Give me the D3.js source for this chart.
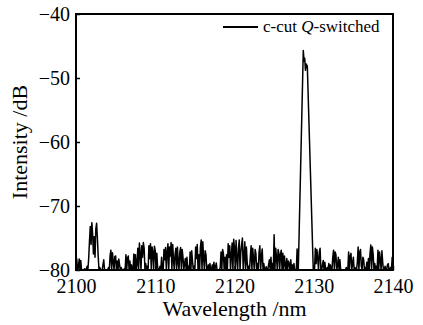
<!DOCTYPE html>
<html>
<head>
<meta charset="utf-8">
<script src="https://cdn.jsdelivr.net/npm/d3@7"></script>
<style>
  body { margin: 0; background: #fff; }
  svg text { font-family: "Liberation Serif", "DejaVu Serif", serif; fill: #000; }
</style>
</head>
<body>
<svg id="chart" width="423" height="325"></svg>
<script>
var noiseStep = 0.1;
var noise2100 = [ // 2100.0 .. 2109.9
  -77.8,-78.4,-80,-79.6,-78.3,-80,-78.5,-80,-80,-80,
  -80,-79.8,-80,-80,-79.4,-80,-78.2,-75.5,-73.2,-76,
  -72.6,-74.4,-77.5,-74.8,-78,-73.6,-72.7,-75,-77.8,-80,
  -79.6,-80,-80,-80,-79.2,-78.4,-80,-80,-80,-80,
  -80,-79.6,-80,-77.8,-76.9,-80,-77.3,-78.6,-80,-77.9,
  -77.8,-80,-78.6,-80,-78.3,-79.2,-80,-79.6,-80,-80,
  -80,-79.8,-80,-77.6,-80,-78.1,-77.8,-80,-78.6,-80,
  -79.2,-80,-80,-77.5,-80,-77.6,-80,-79,-76.6,-80,
  -75.8,-77.4,-80,-76.2,-78,-75.7,-76.6,-80,-79,-80,
  -79.4,-80,-76.2,-78.2,-75.9,-80,-76.4,-77.2,-80,-76.3
];
var noise2110 = [ // 2110.0 .. 2119.9
  -77,-80,-77.4,-79.6,-80,-80,-79.4,-80,-78,-80,
  -80,-76.8,-78.4,-76.5,-80,-77.2,-75.9,-80,-76.4,-77.8,
  -75.7,-80,-76,-78.3,-80,-77.6,-76.6,-80,-76.4,-78.8,
  -80,-77.2,-76.5,-80,-76.8,-78,-80,-79,-78.2,-80,
  -78,-80,-79.4,-80,-77.2,-80,-77,-78.6,-80,-79.4,
  -80,-76.4,-78.2,-76,-80,-77.6,-80,-76.4,-75.3,-80,
  -75.6,-78,-80,-77,-77.6,-80,-80,-79.2,-80,-79,
  -80,-80,-79.2,-80,-78.8,-80,-79.5,-78.9,-80,-80,
  -80,-80,-79.6,-77.2,-80,-76.8,-77.4,-80,-78,-80,
  -77.6,-80,-75.9,-78,-76.2,-80,-77.8,-75.8,-80,-75.2
];
var noise2120 = [ // 2120.0 .. 2127.9
  -76.5,-80,-75.4,-78.2,-80,-76.6,-75.3,-80,-77.2,-76,
  -75,-80,-77.8,-75.6,-80,-76.4,-78.8,-80,-79.4,-80,
  -77.8,-76.2,-80,-76.6,-78.2,-80,-76.8,-77.4,-80,-79,
  -80,-77.2,-76.2,-80,-77.8,-76.7,-80,-79,-80,-80,
  -79.5,-80,-80,-79.2,-78.4,-80,-78,-80,-79,-80,
  -74.5,-80,-76.6,-78,-80,-76.8,-77.4,-80,-77.6,-76.9,
  -80,-77.4,-80,-77.8,-79.2,-80,-78.2,-80,-78.6,-79,
  -80,-78.4,-80,-79.2,-80,-79,-80,-80,-80,-76.7
];
var noise2130 = [ // 2130.0 .. 2140.0
  -80,-80,-76.6,-79,-76.8,-78.2,-80,-77.2,-76.6,-80,
  -80,-79.2,-78.5,-80,-78.8,-80,-80,-79.6,-80,-79,
  -80,-79.2,-80,-80,-78,-76.9,-80,-77.2,-77.6,-80,
  -79.4,-78,-80,-78.4,-80,-80,-80,-80,-80,-80,
  -80,-79.6,-80,-80,-77.2,-80,-77.8,-77.4,-80,-79,
  -78,-80,-79.6,-80,-80,-78.8,-76.4,-80,-77.2,-76.8,
  -79.4,-80,-78,-78.4,-80,-79.6,-80,-78.8,-80,-78.2,
  -80,-77.4,-76.1,-80,-76.4,-77.6,-80,-79,-80,-79.4,
  -80,-76.9,-80,-77.2,-78.4,-80,-77,-78.8,-80,-80,
  -79.4,-80,-80,-79.2,-79,-80,-80,-79.6,-80,-78,
  -78
];
// laser line: [wavelength nm, intensity dB]
var peakPts = [
  [2128.0,-80],[2128.05,-80],[2128.68,-45.7],[2128.78,-47.4],[2128.86,-46.9],
  [2128.95,-48.8],[2129.05,-47.8],[2129.19,-48.2],[2129.94,-80]
];

var xTicks = [2100, 2110, 2120, 2130, 2140];
var yTicks = [-40, -50, -60, -70, -80];
var legendLabel = ["c-cut ", "Q", "-switched"];

function onGrid(start, vals) {
  return vals.map(function(v, i) { return [start + i * noiseStep, v]; });
}
var spectrum = onGrid(2100, noise2100)
  .concat(onGrid(2110, noise2110), onGrid(2120, noise2120), peakPts, onGrid(2130, noise2130));

var svg = d3.select("#chart");
var padL = 76, padR = 393, padT = 14, padB = 270;

var x = d3.scaleLinear().domain([2100, 2140]).range([padL, padR]);
var y = d3.scaleLinear().domain([-80, -40]).range([padB, padT]);

svg.append("clipPath").attr("id", "plotClip")
  .append("rect")
    .attr("x", padL).attr("y", padT)
    .attr("width", padR - padL).attr("height", padB - padT);

var line = d3.line()
  .x(function(d) { return x(d[0]); })
  .y(function(d) { return y(d[1]); });

svg.append("path")
  .datum(spectrum)
  .attr("clip-path", "url(#plotClip)")
  .attr("d", line)
  .attr("fill", "none")
  .attr("stroke", "#000")
  .attr("stroke-width", 1.5)
  .attr("stroke-linejoin", "round");

// axes, ticks pointing inward
var xAxis = svg.append("g")
  .attr("transform", "translate(0," + padB + ")")
  .call(d3.axisBottom(x).tickValues(xTicks).tickSizeInner(-4).tickSizeOuter(0).tickPadding(9)
    .tickFormat(d3.format("d")));
var yAxis = svg.append("g")
  .attr("transform", "translate(" + padL + ",0)")
  .call(d3.axisLeft(y).tickValues(yTicks).tickSizeInner(-4).tickSizeOuter(0).tickPadding(6)
    .tickFormat(function(d) { return "\u2212" + Math.abs(d); }));

[xAxis, yAxis].forEach(function(ax) {
  ax.select(".domain").remove();
  ax.selectAll(".tick line").attr("stroke", "#000").attr("stroke-width", 1.5);
  ax.selectAll(".tick text").attr("font-size", 20)
    .style("font-family", "'Liberation Serif', serif");
});
xAxis.selectAll(".tick text").attr("dy", "0.71em");

// frame
svg.append("rect")
  .attr("x", padL).attr("y", padT)
  .attr("width", padR - padL).attr("height", padB - padT)
  .attr("fill", "none").attr("stroke", "#000").attr("stroke-width", 2);

// axis titles
svg.append("text")
  .attr("x", (padL + padR) / 2).attr("y", 316)
  .attr("text-anchor", "middle").attr("font-size", 22)
  .text("Wavelength /nm");

svg.append("text")
  .attr("transform", "translate(27," + (padT + padB) / 2 + ") rotate(-90)")
  .attr("text-anchor", "middle").attr("font-size", 22)
  .text("Intensity /dB");

// legend
var lg = svg.append("g");
lg.append("line")
  .attr("x1", 223).attr("x2", 258).attr("y1", 27).attr("y2", 27)
  .attr("stroke", "#000").attr("stroke-width", 2);
var lt = lg.append("text").attr("x", 263).attr("y", 32).attr("font-size", 17);
lt.selectAll("tspan").data(legendLabel).enter().append("tspan")
  .attr("font-style", function(d, i) { return i === 1 ? "italic" : "normal"; })
  .text(function(d) { return d; });
</script>
</body>
</html>
